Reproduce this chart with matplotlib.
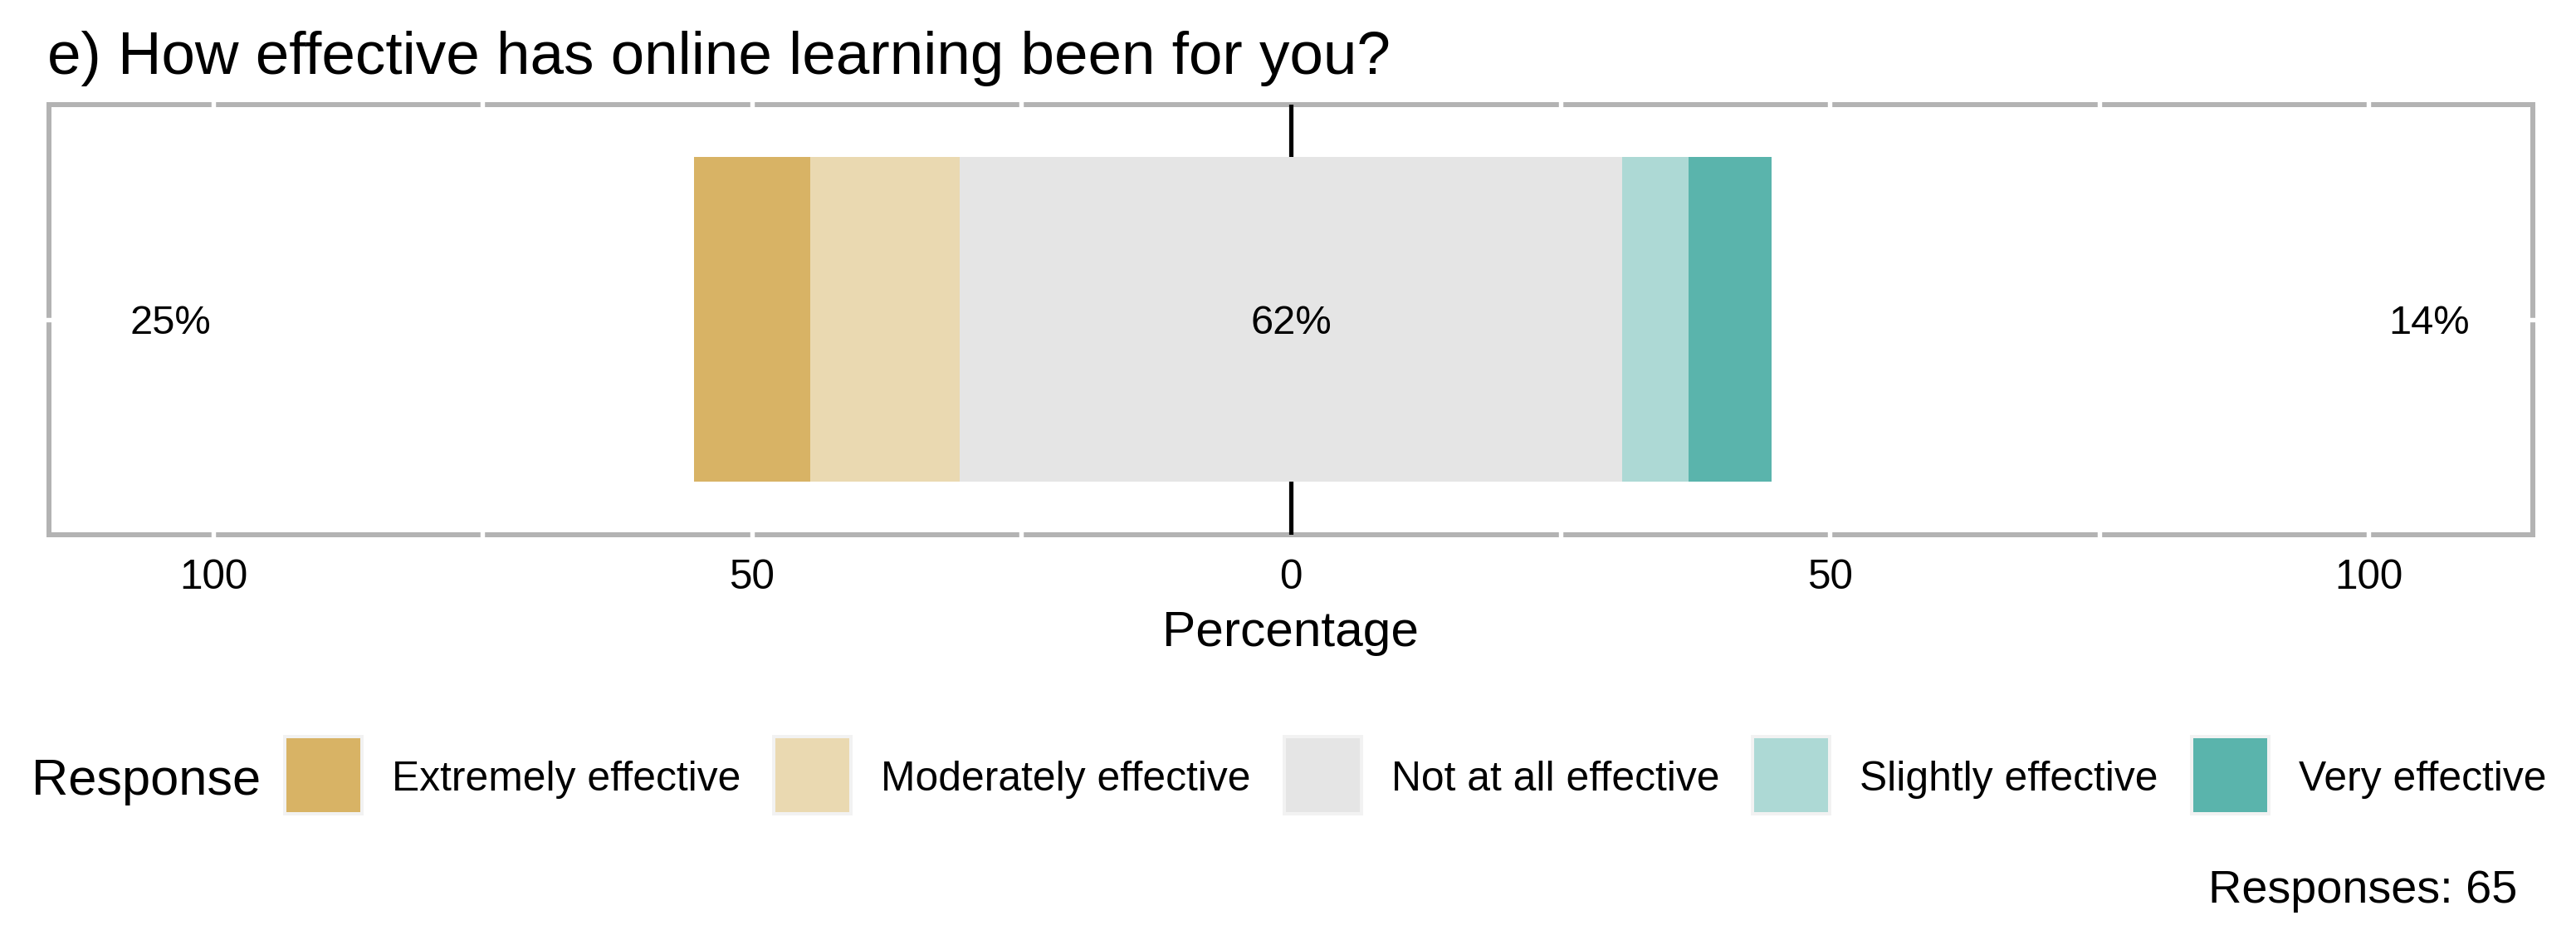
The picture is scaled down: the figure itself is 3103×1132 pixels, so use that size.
import matplotlib
matplotlib.use("Agg")
import matplotlib.pyplot as plt
from matplotlib.patches import Rectangle

plt.rcParams['font.family'] = ['Liberation Sans', 'DejaVu Sans']

# data
question = "e) How effective has online learning been for you?"
responses = ["Extremely effective", "Moderately effective", "Not at all effective",
             "Slightly effective", "Very effective"]
counts = [7, 9, 40, 4, 5]
colors = ["#D8B365", "#EAD9B1", "#E5E5E5", "#ADD9D5", "#5AB4AC"]
low_label, neutral_label, high_label = "25%", "62%", "14%"
low_pos, high_pos = -104, 105.6
ticks = [-100, -50, 0, 50, 100]
tick_labels = ["100", "50", "0", "50", "100"]
n_responses = 65

W, H, DPI = 3104, 1132, 300
n = sum(counts)
pct = [c / n * 100 for c in counts]


def fx(px):
    return px / W


def fy(py):
    return 1 - py / H


fig = plt.figure(figsize=(W / DPI, H / DPI), dpi=DPI)
ax = fig.add_axes([fx(59), fy(644), fx(3051) - fx(59), fy(125.5) - fy(644)])

# diverging stack: neutral split around zero
half = pct[2] / 2
lefts = [-half - pct[1] - pct[0], -half - pct[1], -half, 0, half, half + pct[3]]
widths = [pct[0], pct[1], half, half, pct[3], pct[4]]
cols = [colors[0], colors[1], colors[2], colors[2], colors[3], colors[4]]
ax.barh([0] * 6, widths, left=lefts, height=0.905, color=cols, linewidth=0, zorder=3)

ax.set_xlim(-115.25, 115.25)
ax.set_ylim(-0.6, 0.6)
ax.set_yticks([])
ax.set_xticks(ticks, tick_labels)
ax.tick_params(axis='x', length=0, pad=7.0, labelsize=11.9)

for s in ax.spines.values():
    s.set_color('#B3B3B3')
    s.set_linewidth(1.44)
    s.set_zorder(2.5)

# white grid lines, they only show where they cut the border
for g in [-100, -75, -50, -25, 25, 50, 75, 100]:
    ax.axvline(g, ymin=-0.012, ymax=1.012, color='white', lw=1.3, zorder=2.6, clip_on=False)
ax.axhline(0, xmin=-0.0022, xmax=1.0022, color='white', lw=1.3, zorder=2.6, clip_on=False)
ax.axvline(0, color='black', lw=1.25, zorder=2.8)

ax.text(low_pos, 0, low_label, ha='center', va='center_baseline', fontsize=11.7, zorder=5)
ax.text(0, 0, neutral_label, ha='center', va='center_baseline', fontsize=11.7, zorder=5)
ax.text(high_pos, 0, high_label, ha='center', va='center_baseline', fontsize=11.7, zorder=5)

fig.text(fx(57), fy(89), question, fontsize=17.5, ha='left', va='baseline')
fig.text(fx(1555), fy(778), "Percentage", fontsize=14.5, ha='center', va='baseline')

# legend in a row, ggplot style
renderer = fig.canvas.get_renderer()
fig.text(fx(38), fy(957), "Response", fontsize=14.7, ha='left', va='baseline')
x = 341
for lab, c in zip(responses, colors):
    fig.patches.append(Rectangle((fx(x + 2), fy(980)), fx(93), fy(887) - fy(980),
                                 transform=fig.transFigure, facecolor=c,
                                 edgecolor='#F2F2F2', linewidth=0.96))
    t = fig.text(fx(x + 97 + 34), fy(951.5), lab, fontsize=11.95, ha='left', va='baseline')
    w = t.get_window_extent(renderer).width
    x = x + 97 + 34 + w + 38

fig.text(fx(3032), fy(1087), f"Responses: {n_responses}", fontsize=13.4,
         ha='right', va='baseline')

fig.savefig("out.png", dpi=DPI)
